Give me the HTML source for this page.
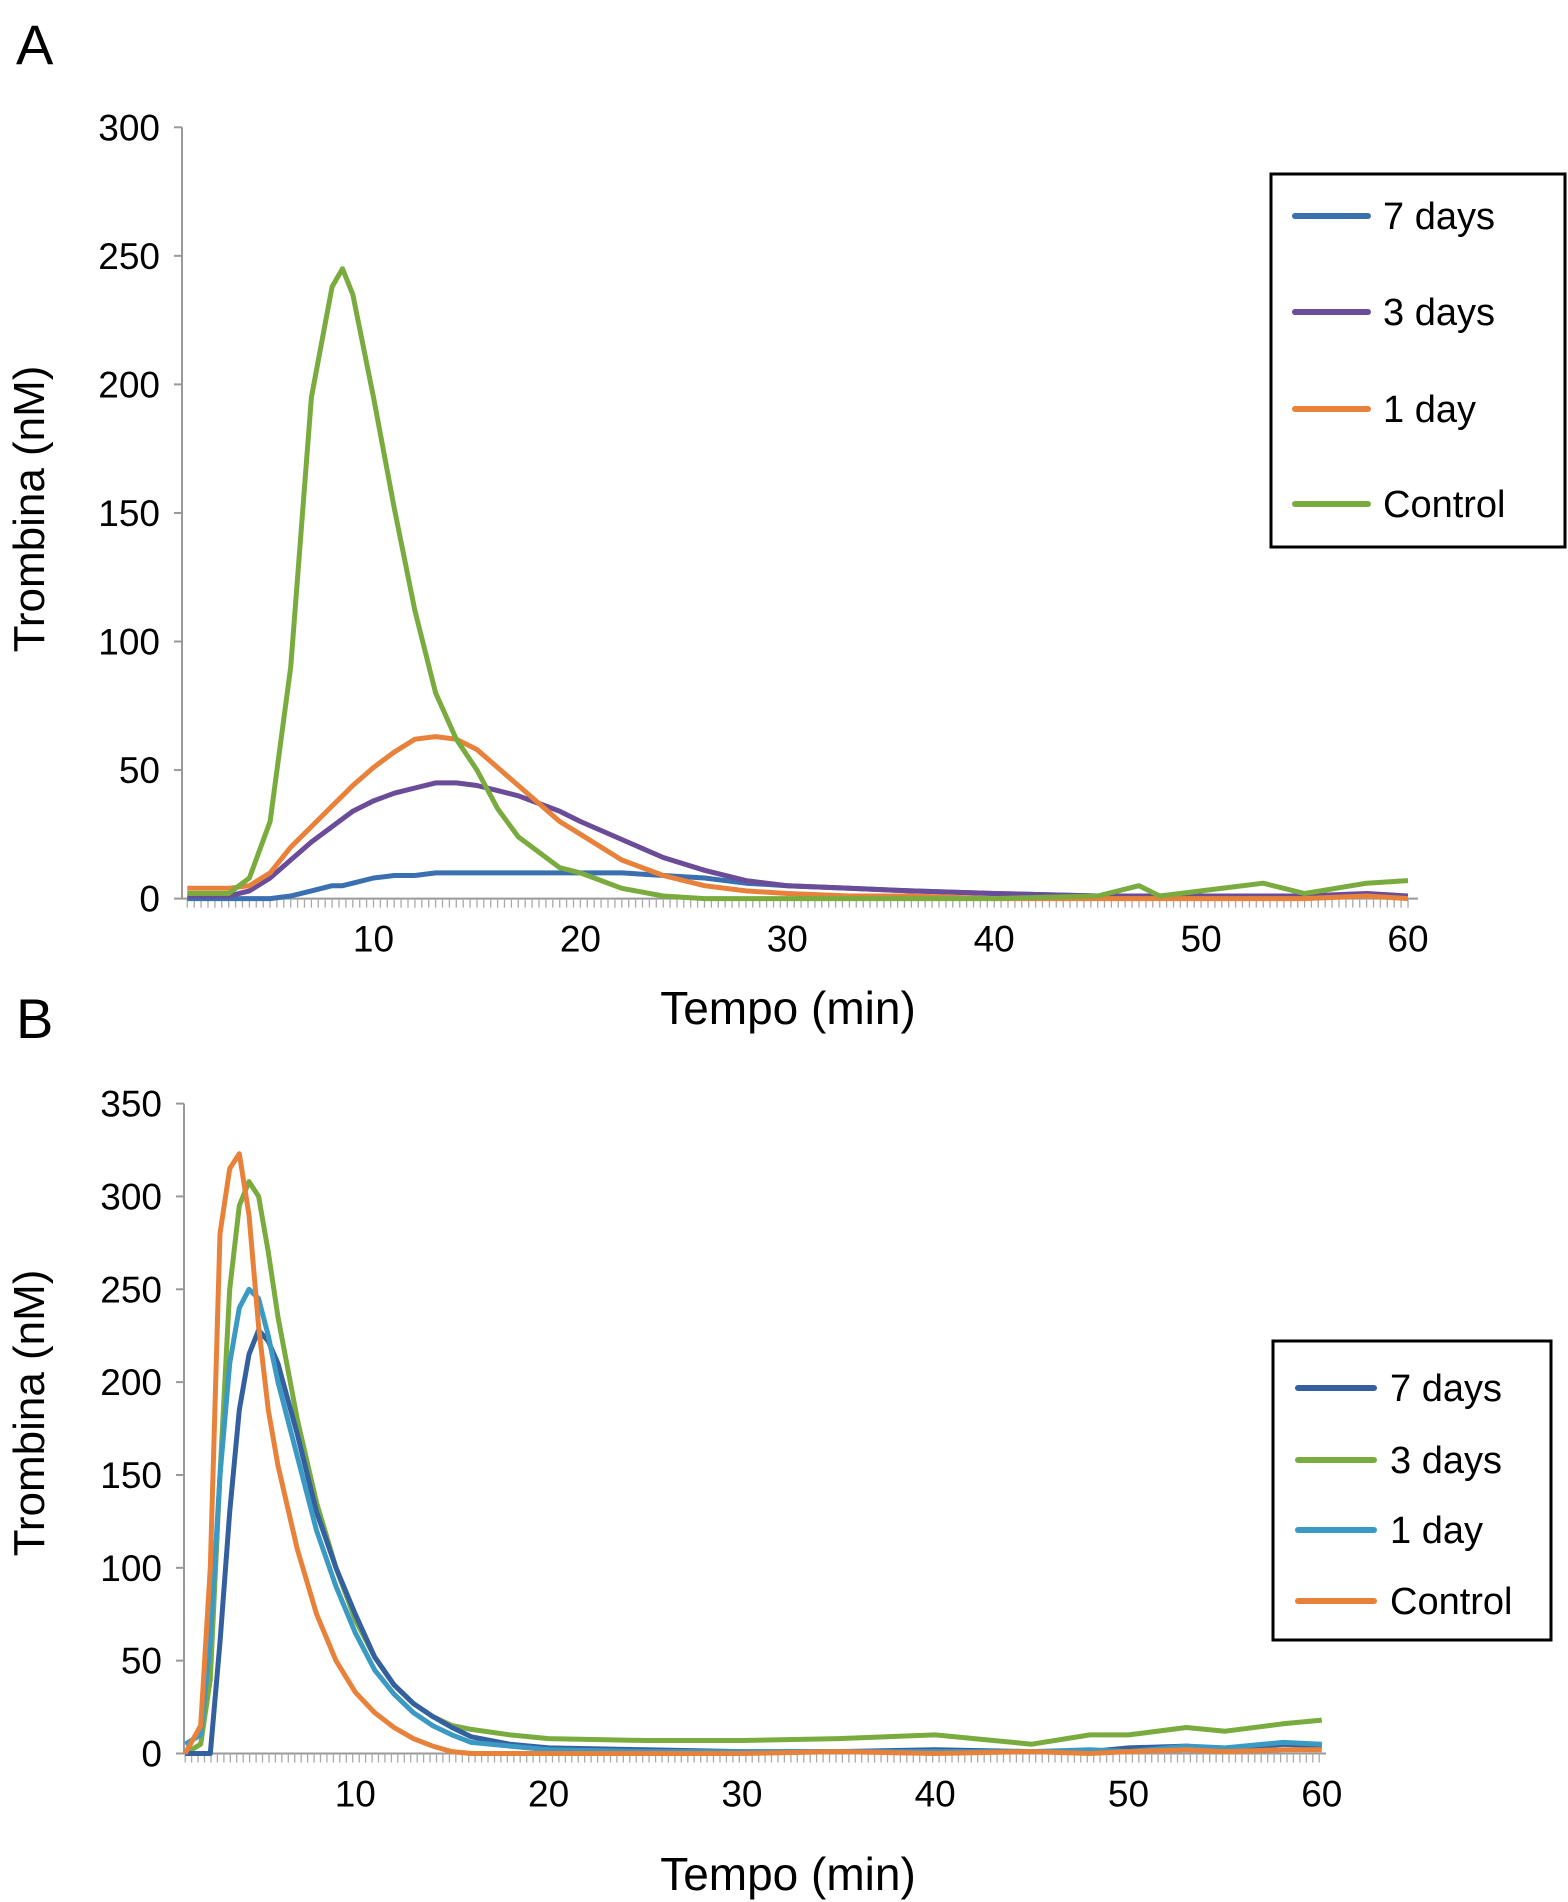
<!DOCTYPE html>
<html><head><meta charset="utf-8">
<style>
html,body{margin:0;padding:0;background:#fff;}
svg{display:block;font-family:"Liberation Sans",sans-serif;}
</style></head>
<body>
<svg id="fig" width="1568" height="1902" viewBox="0 0 1568 1902">
<text x="16" y="64" font-size="56">A</text>
<text x="16" y="1038" font-size="56">B</text>
<text transform="translate(44,509) rotate(-90)" text-anchor="middle" font-size="44">Trombina (nM)</text>
<text transform="translate(44,1413) rotate(-90)" text-anchor="middle" font-size="44">Trombina (nM)</text>
<text x="788" y="1024" text-anchor="middle" font-size="46">Tempo (min)</text>
<text x="788" y="1890" text-anchor="middle" font-size="46">Tempo (min)</text>
<g id="chartA"></g>
<g id="chartB"></g>
</svg>
<script>
// ---- Chart A data ----
const timesA = [1,2,3,4,5,6,7,8,8.5,9,10,11,12,13,14,15,16,17,18,19,20,22,24,26,28,30,33,36,40,45,47,48,50,53,55,58,60];
const a7days = [0,0,0,0,0,1,3,5,5,6,8,9,9,10,10,10,10,10,10,10,10,10,9,8,6,5,4,3,2,1,1,1,1,1,1,1,1];
const a3days = [1,1,1,3,8,15,22,28,31,34,38,41,43,45,45,44,42,40,37,34,30,23,16,11,7,5,4,3,2,1,1,1,1,1,1,2,1];
const a1day = [4,4,4,5,10,20,28,36,40,44,51,57,62,63,62,58,51,44,37,30,25,15,9,5,3,2,1,1,0,0,0,0,0,0,0,1,0];
const aControl = [2,2,2,8,30,90,195,238,245,235,195,152,112,80,62,50,35,24,18,12,10,4,1,0,0,0,0,0,0,1,5,1,3,6,2,6,7];
const yTicksA = [0,50,100,150,200,250,300];
const xTicksA = [10,20,30,40,50,60];
// ---- Chart B data ----
const timesB = [1.2,2,2.5,3,3.5,4,4.5,5,5.5,6,7,8,9,10,11,12,13,14,15,16,18,20,25,30,35,40,45,48,50,53,55,58,60];
const b7days = [0,0,0,60,130,185,215,228,222,210,172,130,100,75,52,37,27,20,14,9,5,3,2,1,1,2,1,1,3,4,2,5,4];
const b3days = [0,5,40,150,250,295,308,300,270,235,180,135,100,72,52,37,27,20,15,13,10,8,7,7,8,10,5,10,10,14,12,16,18];
const b1day = [5,10,60,150,210,240,250,245,225,200,160,120,90,65,45,32,22,15,10,6,4,2,1,1,1,1,1,2,1,4,3,6,5];
const bControl = [0,15,100,280,315,323,290,230,185,155,110,75,50,33,22,14,8,4,1,0,0,0,0,0,1,0,1,0,1,2,1,2,2];
const yTicksB = [0,50,100,150,200,250,300,350];
const xTicksB = [10,20,30,40,50,60];

const NS="http://www.w3.org/2000/svg";
function mk(tag,attrs,parent){const e=document.createElementNS(NS,tag);for(const k in attrs)e.setAttribute(k,attrs[k]);parent.appendChild(e);return e;}

function drawChart(g, cfg){
  const xs=v=>cfg.x10+(v-10)*(cfg.x60-cfg.x10)/50;
  const ys=v=>cfg.y0-v*(cfg.y0-cfg.yTop)/cfg.yMax;
  const ya=mk('line',{x1:cfg.axX,y1:cfg.yTop,x2:cfg.axX,y2:cfg.y0,stroke:'#999','stroke-width':2},g);
  
  
  cfg.yTicks.forEach(t=>{
    const y=ys(t);
    const tl=mk('line',{x1:cfg.axX-8,y1:y,x2:cfg.axX,y2:y,stroke:'#999','stroke-width':2},g);
    
    
    const tx=mk('text',{x:cfg.axX-22,y:y+13,'text-anchor':'end','font-size':37},g);
    tx.textContent=t;
    
    
  });
  const xa=mk('line',{x1:cfg.axX,y1:cfg.y0,x2:cfg.xEnd,y2:cfg.y0,stroke:'#999','stroke-width':2},g);
  
  
  let minor='';
  for(let v=cfg.tStart;v<=60.01;v+=1/3){const x=xs(v);minor+=`M${x.toFixed(1)},${cfg.y0}v9`;}
  const mp=mk('path',{d:minor,stroke:'#aaa','stroke-width':1.3,fill:'none'},g);
  
  
  cfg.xTicks.forEach(t=>{
    const tx=mk('text',{x:xs(t),y:cfg.y0+53,'text-anchor':'middle','font-size':37},g);
    tx.textContent=t;
    
    
  });
  cfg.series.forEach(s=>{
    const d=cfg.times.map((t,i)=>(i?'L':'M')+xs(t).toFixed(1)+','+ys(s.vals[i]).toFixed(1)).join('');
    const p=mk('path',{d:d,fill:'none',stroke:s.color,'stroke-width':5,'stroke-linejoin':'round'},g);
    
    
  });
  const L=cfg.legend;
  const box=mk('rect',{x:L.x,y:L.y,width:L.w,height:L.h,fill:'#fff',stroke:'#000','stroke-width':3},g);
  
  
  cfg.legendOrder.forEach((s,i)=>{
    const y=L.rows[i];
    const ln=mk('line',{x1:L.lx1,y1:y,x2:L.lx2,y2:y,stroke:s.color,'stroke-width':6,'stroke-linecap':'round'},g);
    
    
    const tx=mk('text',{x:L.tx,y:y+13,'font-size':38},g);
    tx.textContent=s.label;
    
    
  });
}

const sA={d7:{key:'7-days',label:'7 days',color:'#3a6fb0',vals:a7days},
 d3:{key:'3-days',label:'3 days',color:'#6a4c98',vals:a3days},
 d1:{key:'1-day',label:'1 day',color:'#e8823a',vals:a1day},
 c:{key:'control',label:'Control',color:'#7aab3e',vals:aControl}};
drawChart(document.getElementById('chartA'),{
  x10:373.5,x60:1408,y0:898.6,yTop:127.3,yMax:300,axX:182,xEnd:1418,tStart:1,
  yTicks:yTicksA,xTicks:xTicksA,times:timesA,
  series:[sA.d7,sA.d3,sA.d1,sA.c],
  legendOrder:[sA.d7,sA.d3,sA.d1,sA.c],
  legend:{x:1271,y:174,w:294,h:373,rows:[216,312,409,504],lx1:1295,lx2:1368,tx:1383}
});
const sB={d7:{key:'7-days',label:'7 days',color:'#34609f',vals:b7days},
 d3:{key:'3-days',label:'3 days',color:'#7aab3e',vals:b3days},
 d1:{key:'1-day',label:'1 day',color:'#3a9ac4',vals:b1day},
 c:{key:'control',label:'Control',color:'#e8823a',vals:bControl}};
drawChart(document.getElementById('chartB'),{
  x10:355.3,x60:1321.8,y0:1753.5,yTop:1103.6,yMax:350,axX:184,xEnd:1326,tStart:1.2,
  yTicks:yTicksB,xTicks:xTicksB,times:timesB,
  series:[sB.d3,sB.d7,sB.d1,sB.c],
  legendOrder:[sB.d7,sB.d3,sB.d1,sB.c],
  legend:{x:1273,y:1341,w:278,h:299,rows:[1388,1460,1530,1601],lx1:1298,lx2:1374,tx:1390}
});
</script>
</body></html>
